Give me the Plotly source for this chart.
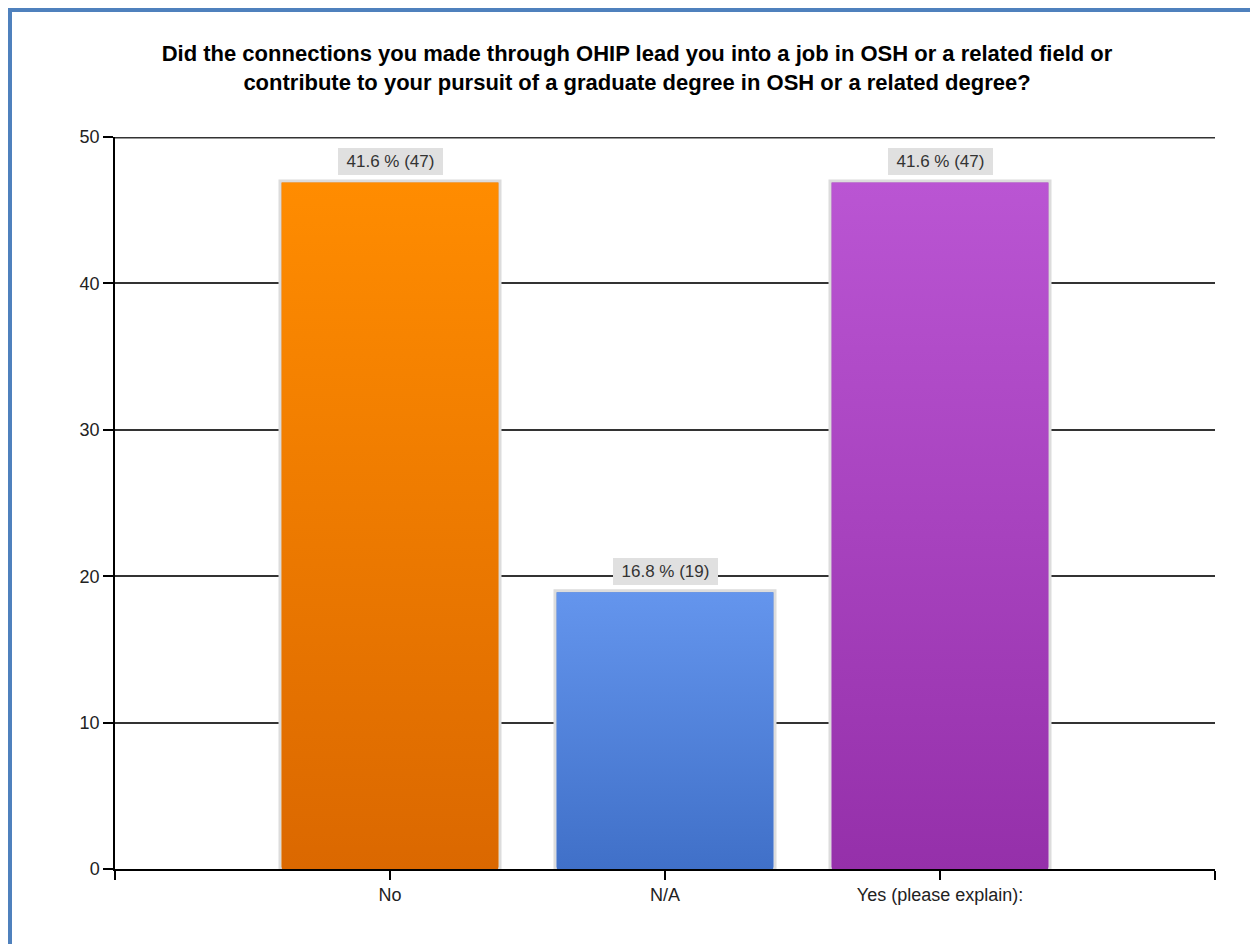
import base64
import plotly.graph_objects as go

categories = ["No", "N/A", "Yes (please explain):"]
counts = [47, 19, 47]
percents = [41.6, 16.8, 41.6]
top_colors = ["#FF8C00", "#6495ED", "#BA55D3"]
bottom_colors = ["#DB6800", "#4070C8", "#9530AA"]
mid_colors = ["#ED7A00", "#5283DB", "#A843BF"]
y_ticks = [0, 10, 20, 30, 40, 50]

title = ("<b>Did the connections you made through OHIP lead you into a job in OSH or a related field or<br>"
         "contribute to your pursuit of a graduate degree in OSH or a related degree?</b>")

W, H = 1258, 944
ML, MR, MT, MB = 107, 51, 129, 83
PW, PH = W - ML - MR, H - MT - MB

xs = list(range(len(categories)))

fig = go.Figure()
fig.add_trace(go.Bar(
    x=xs, y=counts, width=0.8,
    marker=dict(color=mid_colors, line=dict(color="#DCDCDC", width=3)),
    hoverinfo="skip", showlegend=False,
))


def grad_uri(top, bot):
    svg = ("<svg xmlns='http://www.w3.org/2000/svg' width='10' height='100' viewBox='0 0 10 100' "
           "preserveAspectRatio='none'><defs><linearGradient id='g' x1='0' y1='0' x2='0' y2='1'>"
           f"<stop offset='0' stop-color='{top}'/><stop offset='1' stop-color='{bot}'/>"
           "</linearGradient></defs><rect width='10' height='100' fill='url(#g)'/></svg>")
    return "data:image/svg+xml;base64," + base64.b64encode(svg.encode()).decode()


images = []
annotations = []
for i, (c, v, p) in enumerate(zip(categories, counts, percents)):
    images.append(dict(
        source=grad_uri(top_colors[i], bottom_colors[i]),
        xref="x", yref="y", x=i - 0.4 + 0.006, y=v - 0.1,
        sizex=0.8 - 0.012, sizey=v - 0.1, sizing="stretch",
        xanchor="left", yanchor="top", layer="above",
    ))
    annotations.append(dict(
        x=i, y=v, xref="x", yref="y", text=f"{p} % ({v})",
        showarrow=False, yanchor="bottom", yshift=6,
        bgcolor="#E0E0E0", borderpad=3, borderwidth=0,
        width=99, height=21,
        font=dict(family="Liberation Sans, Arial", size=17, color="#333333"),
    ))


# blue frame (pixel positions converted to paper coordinates)
def px_x(px):
    return (px - ML) / PW


def px_y(py):
    return (H - MB - py) / PH


shapes = [
    dict(type="line", xref="paper", yref="paper", x0=px_x(2), x1=px_x(2), y0=px_y(0), y1=px_y(H + 5),
         line=dict(color="#4F81BD", width=4)),
    dict(type="line", xref="paper", yref="paper", x0=px_x(0), x1=px_x(W + 5), y0=px_y(2), y1=px_y(2),
         line=dict(color="#4F81BD", width=4)),
    # top gridline (plotly omits the gridline lying on the range edge; half is clipped)
    dict(type="line", xref="paper", yref="y", x0=0, x1=1, y0=y_ticks[-1], y1=y_ticks[-1],
         layer="below", line=dict(color="#333333", width=3)),
]

fig.update_layout(
    width=W, height=H,
    margin=dict(l=ML, r=MR, t=MT, b=MB),
    paper_bgcolor="white", plot_bgcolor="white",
    title=dict(text=title, x=0.5, xanchor="center", y=1 - 53 / H, yanchor="middle",
               font=dict(family="Liberation Sans, Arial", size=22, color="black")),
    font=dict(family="Liberation Sans, Arial", size=18, color="#222222"),
    xaxis=dict(
        range=[-1, len(categories)], tickmode="array",
        tickvals=[-1] + xs + [len(categories)],
        ticktext=[""] + categories + [""],
        ticks="outside", ticklen=9, tickwidth=1.5, tickcolor="black",
        showgrid=False, zeroline=False, showline=True, linecolor="black", linewidth=1.5,
        fixedrange=True,
    ),
    yaxis=dict(
        range=[0, 50], tickmode="array", tickvals=y_ticks,
        ticks="outside", ticklen=10, tickwidth=1.5, tickcolor="black",
        showgrid=True, gridcolor="#333333", gridwidth=1.5,
        zeroline=False, showline=True, linecolor="black", linewidth=1.5,
        fixedrange=True,
    ),
    images=images,
    annotations=annotations,
    shapes=shapes,
    bargap=0.2,
)

fig.write_html("out.html")
